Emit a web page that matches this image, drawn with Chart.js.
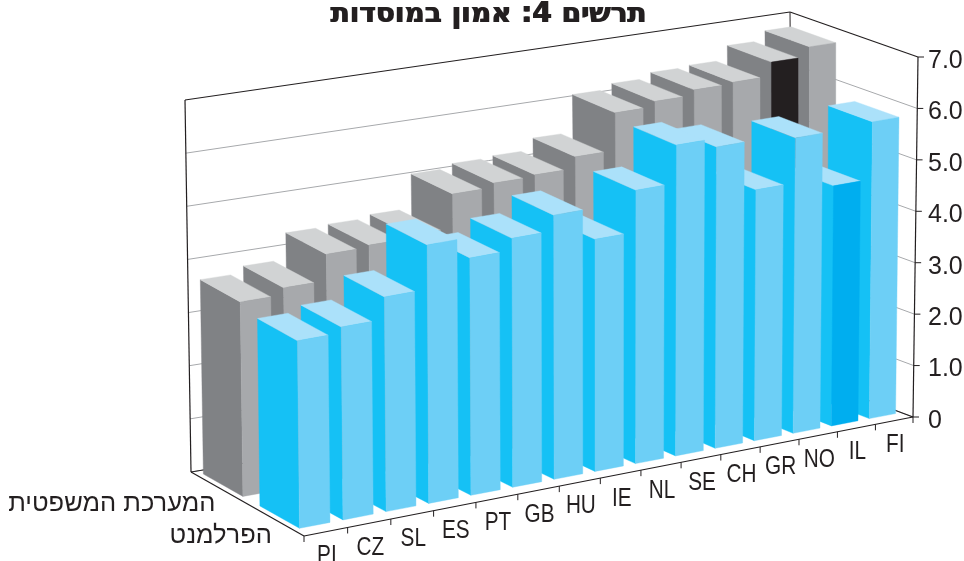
<!DOCTYPE html>
<html lang="he">
<head>
<meta charset="utf-8">
<style>html,body{margin:0;padding:0;background:#fff;overflow:hidden}#wrap{width:964px;height:561px}</style>
<script src="https://cdn.jsdelivr.net/npm/chart.js@4"></script>
</head>
<body>
<div id="wrap"><canvas id="c" width="964" height="561"></canvas></div>
<script>
const categories = ['PI','CZ','SL','ES','PT','GB','HU','IE','NL','SE','CH','GR','NO','IL','FI'];
const parliament = [3.53,3.64,4.06,4.90,4.51,4.74,5.04,4.44,5.24,5.97,5.80,4.84,5.71,4.65,5.76];
const judiciary  = [3.66,3.79,4.29,4.33,4.39,5.04,5.12,5.15,5.37,6.09,6.19,6.29,6.32,6.59,6.77];
const seriesNames = ['הפרלמנט','המערכת המשפטית'];
const yTickLabels = ['0','1.0','2.0','3.0','4.0','5.0','6.0','7.0'];
const chartTitle = 'תרשים 4: אמון במוסדות';
const highlighted = 'IL';

// Projection of the scale box into the picture: [front-left, front-right, back-left, back-right]
const FLOOR = [[304,536],[913,417],[191,472],[793,372]];
const CEIL  = [[300,164],[918,57],[185,100],[790,12]];
const WARP = 0.08;
const DARK = '#231f20', GRID = '#a7a9ac';
const mix = (a,b,t)=>a+(b-a)*t;
function project(u,d,h){
  const w = (1+WARP)*u - WARP*u*u;
  const q = c => [0,1].map(k=>mix(mix(c[0][k],c[1][k],w),mix(c[2][k],c[3][k],w),d));
  const a=q(FLOOR), b=q(CEIL);
  return [mix(a[0],b[0],h),mix(a[1],b[1],h)];
}
function poly(ctx,pts,fill){
  ctx.beginPath();pts.forEach((p,i)=>i?ctx.lineTo(p[0],p[1]):ctx.moveTo(p[0],p[1]));ctx.closePath();
  ctx.fillStyle=fill;ctx.fill();ctx.strokeStyle=fill;ctx.lineWidth=0.4;ctx.stroke();
}
function line(ctx,a,b,color,w){
  ctx.beginPath();ctx.moveTo(a[0],a[1]);ctx.lineTo(b[0],b[1]);ctx.strokeStyle=color;ctx.lineWidth=w;ctx.stroke();
}
const plugin3d = {
  id:'plugin3d',
  afterLayout(chart){
    // The title is centred on the whole picture rather than on the plot box, a little heavier than bold
    const tb=chart.titleBlock;
    if(!tb) return;
    tb.left=0;tb.right=976;tb.top=-2;
    if(!tb._heavy){
      const draw=tb.draw;
      tb.draw=function(){
        const c=chart.ctx;c.save();c.shadowColor=DARK;c.shadowOffsetX=1.2;c.shadowBlur=0;
        draw.call(this);c.restore();
      };
      tb._heavy=true;
    }
  },
  beforeDatasetsDraw(chart){
    const {ctx,scales:{y}}=chart;
    ctx.save();
    const hOf=v=>(y.bottom-y.getPixelForValue(v))/(y.bottom-y.top);
    y.ticks.forEach(t=>{
      const h=hOf(t.value), top=t.value===7;
      line(ctx,project(0,1,h),project(1,1,h),top?DARK:GRID,top?1.2:1);
      line(ctx,project(1,1,h),project(1,0,h),top?DARK:GRID,top?1.2:1);
    });
    line(ctx,project(0,1,0),project(0,1,1),DARK,1.2);
    line(ctx,project(1,1,0),project(1,1,1),DARK,1);
    line(ctx,project(0,1,0),project(1,1,0),DARK,1);
    line(ctx,project(0,1,0),project(0,0,0),DARK,1.2);
    line(ctx,project(1,1,0),project(1,0,0),DARK,1.2);
    ctx.restore();
  },
  beforeDatasetDraw(chart,args){
    const {ctx,scales:{y},chartArea:A}=chart;
    const ds=chart.data.datasets[args.index], els=args.meta.data;
    const hOf=v=>(y.bottom-y.getPixelForValue(v))/(y.bottom-y.top);
    const uOf=p=>(p-A.left)/(A.right-A.left);
    const cell=(A.right-A.left)/categories.length;
    ctx.save();
    for(let i=els.length-1;i>=0;i--){
      const el=els[i];
      const u0=uOf(el.x-el.width/2+0.005*cell), u1=uOf(el.x+el.width/2+0.005*cell);
      const d0=ds.depth[0], d1=ds.depth[1], h=hOf(ds.data[i]);
      const fb=project(u0,d0,0), fr=project(u1,d0,0), bb=project(u0,d1,0);
      const ft=project(u0,d0,h), frt=project(u1,d0,h), bt=project(u0,d1,h), brt=project(u1,d1,h);
      poly(ctx,[bb,fb,ft,bt],ds.sideColor);
      poly(ctx,[ft,bt,brt,frt],ds.topColor);
      poly(ctx,[fb,fr,frt,ft],ds.backgroundColor[i]);
    }
    ctx.restore();
    return false;
  },
  afterDatasetsDraw(chart){
    const {ctx,scales:{x,y}}=chart;
    const n=categories.length;
    ctx.save();
    line(ctx,project(0,0,0),project(1,0,0),DARK,1.2);
    for(let i=0;i<=n;i++){
      const p=project(i/n,0,0);
      line(ctx,p,[p[0],p[1]+6],DARK,1);
    }
    line(ctx,project(1,0,0),project(1,0,1),DARK,1.2);
    y.ticks.forEach(t=>{
      const p=project(1,0,(y.bottom-y.getPixelForValue(t.value))/(y.bottom-y.top));
      line(ctx,p,[p[0]+6,p[1]],DARK,1);
    });
    ctx.fillStyle=DARK;ctx.textAlign='center';ctx.textBaseline='middle';
    ctx.font='25px "Liberation Sans"';
    categories.forEach((c,i)=>{
      const p=project((i+0.5)/n,0,0);
      ctx.save();ctx.translate(p[0]+1,p[1]+24.5);ctx.scale(0.83,1);ctx.fillText(x.getLabelForValue(i),0,0);ctx.restore();
    });
    ctx.direction='rtl';ctx.textAlign='right';ctx.font='25.5px "Liberation Sans"';
    chart.data.datasets.forEach(ds=>{
      const p=project(0,(ds.depth[0]+ds.depth[1])/2,0);
      ctx.fillText(ds.label,p[0]-1,p[1]+18);
    });
    ctx.restore();
  }
};
Chart.register(plugin3d);
new Chart(document.getElementById('c'),{
  type:'bar',
  data:{labels:categories,datasets:[
    {label:seriesNames[0],data:parliament,depth:[0.10,0.45],
     backgroundColor:categories.map(c=>c===highlighted?'#00aeef':'#6dcff6'),sideColor:'#15c1f5',topColor:'#abe1fa'},
    {label:seriesNames[1],data:judiciary,depth:[0.60,0.95],
     backgroundColor:categories.map(c=>c===highlighted?DARK:'#a7a9ac'),sideColor:'#808285',topColor:'#d1d3d4'}
  ]},
  options:{
    responsive:false,animation:false,
    layout:{padding:{left:304,right:0,top:0,bottom:144}},
    datasets:{bar:{grouped:false,categoryPercentage:0.70,barPercentage:1}},
    plugins:{
      legend:{display:false},tooltip:{enabled:false},
      title:{display:true,text:chartTitle,color:DARK,
        font:{family:'"DejaVu Sans"',size:28,weight:'bold'},padding:{top:0,bottom:23.4}}
    },
    scales:{
      x:{display:false},
      y:{position:'right',min:0,max:7,
        afterFit(s){s.width=51;},
        afterBuildTicks(s){s.ticks=yTickLabels.map((_,i)=>({value:i}));},
        border:{display:false},
        grid:{drawOnChartArea:false,drawTicks:false},
        ticks:{color:DARK,padding:15,labelOffset:4,font:{family:'"Liberation Sans"',size:25},maxRotation:0,
          autoSkip:false,callback:(v)=>yTickLabels[v]}
      }
    }
  }
});
</script>
</body>
</html>
